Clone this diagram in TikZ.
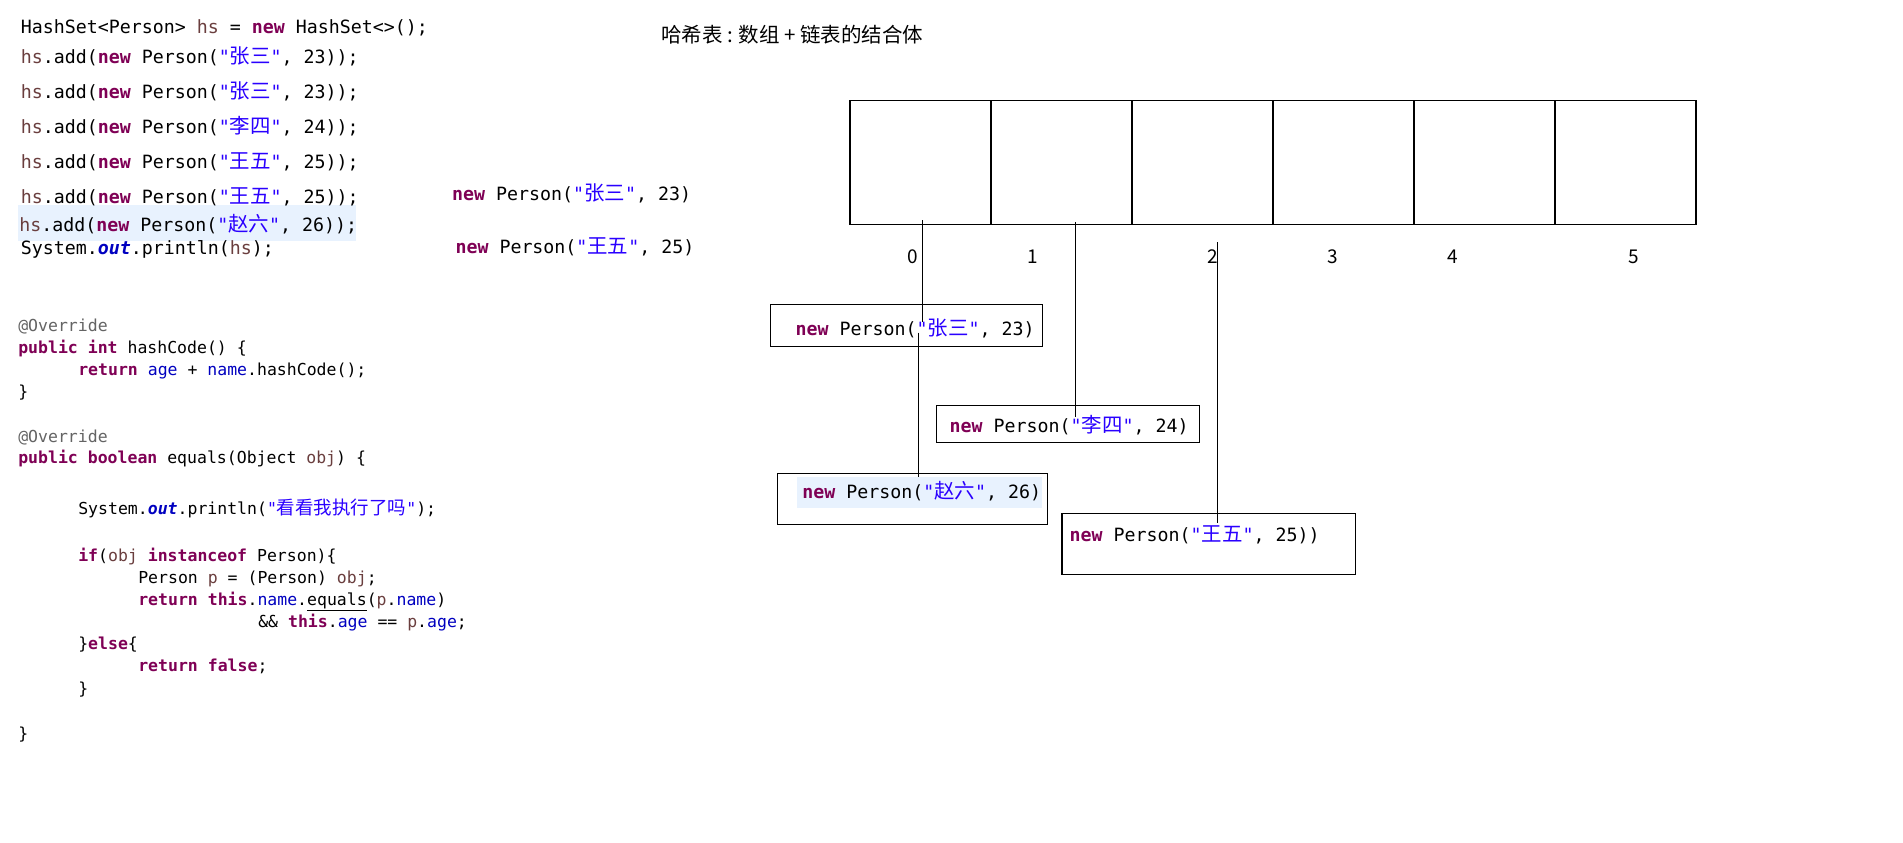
\documentclass[tikz,border=0pt]{standalone}
\usepackage{fontspec}
\setmonofont{DejaVu Sans Mono}
\newfontfamily\cjk{Noto Sans CJK SC}
\newfontfamily\cjkc[Scale=1.12]{Noto Sans CJK SC}
\definecolor{kwc}{HTML}{7F0055}
\definecolor{strc}{HTML}{2A00FF}
\definecolor{fldc}{HTML}{0000C0}
\definecolor{locc}{HTML}{6A3E3E}
\definecolor{annc}{HTML}{646464}
\definecolor{hlc}{HTML}{E8F2FE}
\newcommand\kw[1]{{\color{kwc}\bfseries #1}}
\newcommand\sq[1]{{\color{strc}#1}}
\newcommand\fld[1]{{\color{fldc}#1}}
\newcommand\lv[1]{{\color{locc}#1}}
\newcommand\ann[1]{{\color{annc}#1}}
\newcommand\zh[1]{{\cjkc #1}}
\begin{document}
\begin{tikzpicture}[x=1pt,y=-1pt,
  codeA/.style={anchor=base west, inner sep=0pt, outer sep=0pt, yshift=-6.8pt,
    font=\ttfamily\fontsize{18.27}{22}\selectfont},
  codeB/.style={anchor=base west, inner sep=0pt, outer sep=0pt, yshift=-5.8pt,
    font=\ttfamily\fontsize{16.5}{20}\selectfont},
  cell/.style={draw, line width=1.1pt, minimum width=141pt, minimum height=124pt, inner sep=0pt, outer sep=0pt},
  objbox/.style={draw, line width=1.1pt, inner sep=0pt, outer sep=0pt},
  idx/.style={font=\cjk\fontsize{19}{22}\selectfont, inner sep=0pt},
  link/.style={line width=1pt}
]
\useasboundingbox (0,0) rectangle (1903,843);
\fill[white] (0,0) rectangle (1903,843);

% ---------- top code ----------
\fill[hlc] (18.3,205) rectangle (355.5,240.5);
\node[codeA] (t1) at (20.8,26.7) {HashSet<Person> \lv{hs} = \kw{new} HashSet<>();};
\node[codeA] (t2) at (20.8,56.5) {\lv{hs}.add(\kw{new} Person(\sq{"\zh{张三}"}, 23));};
\node[codeA] (t3) at (20.8,91.3) {\lv{hs}.add(\kw{new} Person(\sq{"\zh{张三}"}, 23));};
\node[codeA] (t4) at (20.8,126.7) {\lv{hs}.add(\kw{new} Person(\sq{"\zh{李四}"}, 24));};
\node[codeA] (t5) at (20.8,161.8) {\lv{hs}.add(\kw{new} Person(\sq{"\zh{王五}"}, 25));};
\node[codeA] (t6) at (20.8,196.7) {\lv{hs}.add(\kw{new} Person(\sq{"\zh{王五}"}, 25));};
\node[codeA] (t7) at (19.3,224.8) {\lv{hs}.add(\kw{new} Person(\sq{"\zh{赵六}"}, 26));};
\node[codeA] (t8) at (20.8,248) {System.\fld{\bfseries\itshape out}.println(\lv{hs});};

% ---------- loose texts ----------
\node[codeA] (f1) at (452.2,193.3) {\kw{new} Person(\sq{"\zh{张三}"}, 23)};
\node[codeA] (f2) at (455.5,246.7) {\kw{new} Person(\sq{"\zh{王五}"}, 25)};

% ---------- lower code ----------
\node[codeB] (b1) at (18.3,325.5) {\ann{@Override}};
\node[codeB] (b2) at (18.3,347.7) {\kw{public} \kw{int} hashCode() \{};
\node[codeB] (b3) at (78.3,370) {\kw{return} \fld{age} + \fld{name}.hashCode();};
\node[codeB] (b4) at (18.3,392) {\}};
\node[codeB] (b5) at (18.3,436.5) {\ann{@Override}};
\node[codeB] (b6) at (18.3,458) {\kw{public} \kw{boolean} equals(Object \lv{obj}) \{};
\node[codeB] (b7) at (78.3,508.4) {System.\fld{\bfseries\itshape out}.println(\sq{"\zh{看看我执行了吗}"});};
\node[codeB] (b8) at (78.3,556) {\kw{if}(\lv{obj} \kw{instanceof} Person)\{};
\node[codeB] (b9) at (138.3,578) {Person \lv{p} = (Person) \lv{obj};};
\node[codeB] (b10) at (138.3,599.8) {\kw{return} \kw{this}.\fld{name}.\underline{equals}(\lv{p}.\fld{name})};
\node[codeB] (b11) at (258.3,621.5) {\&\& \kw{this}.\fld{age} == \lv{p}.\fld{age};};
\node[codeB] (b12) at (78.3,643.2) {\}\kw{else}\{};
\node[codeB] (b13) at (138.3,666) {\kw{return} \kw{false};};
\node[codeB] (b14) at (78.3,688.7) {\}};
\node[codeB] (b15) at (18.3,733.2) {\}};

% ---------- title ----------
\node[anchor=west, inner sep=0pt, font=\cjk\fontsize{20.5}{24}\selectfont] (title) at (660.8,35) {哈希表 : 数组 + 链表的结合体};

% ---------- array ----------
\node[cell] (c0) at (920.5,162.3) {};
\node[cell] (c1) at (1061.5,162.3) {};
\node[cell] (c2) at (1202.5,162.3) {};
\node[cell] (c3) at (1343.5,162.3) {};
\node[cell] (c4) at (1484.5,162.3) {};
\node[cell] (c5) at (1625.5,162.3) {};

\node[idx] (i0) at (912.7,256.5) {0};
\node[idx] (i1) at (1032.7,256.5) {1};
\node[idx] (i2) at (1212.7,256.5) {2};
\node[idx] (i3) at (1332.7,256.5) {3};
\node[idx] (i4) at (1452.7,256.5) {4};
\node[idx] (i5) at (1633.3,256.5) {5};

% ---------- element boxes ----------
\node[objbox, minimum width=272pt, minimum height=42pt] (bz) at (906.3,325.3) {};
\node[codeA] (tz) at (795.7,328.5) {\kw{new} Person(\sq{"\zh{张三}"}, 23)};

\node[objbox, minimum width=263.4pt, minimum height=37.3pt] (bl) at (1067.9,423.7) {};
\node[codeA] (tl) at (949.6,425.7) {\kw{new} Person(\sq{"\zh{李四}"}, 24)};

\node[objbox, minimum width=270.4pt, minimum height=51pt] (bzh) at (912.5,498.8) {};
\fill[hlc] (797.3,476.7) rectangle (1041.5,507.7);
\node[codeA] (tzh) at (802.3,491.7) {\kw{new} Person(\sq{"\zh{赵六}"}, 26)};

\node[objbox, minimum width=293.8pt, minimum height=60.7pt] (bw) at (1208.9,543.7) {};
\node[codeA] (tw) at (1069.6,535) {\kw{new} Person(\sq{"\zh{王五}"}, 25))};

% ---------- links ----------
\coordinate (p0a) at (922.5,220);
\coordinate (q0a) at (922.5,322.3);
\coordinate (p0b) at (918.5,332.7);
\coordinate (q0b) at (918.5,476.7);
\coordinate (p1) at (1075,222.3);
\coordinate (q1) at (1075,416.7);
\coordinate (p2) at (1217.5,242.3);
\coordinate (q2) at (1217.5,523.3);
\draw[link] (p0a) -- (q0a);
\draw[link] (p0b) -- (q0b);
\draw[link] (p1) -- (q1);
\draw[link] (p2) -- (q2);
\end{tikzpicture}
\end{document}
